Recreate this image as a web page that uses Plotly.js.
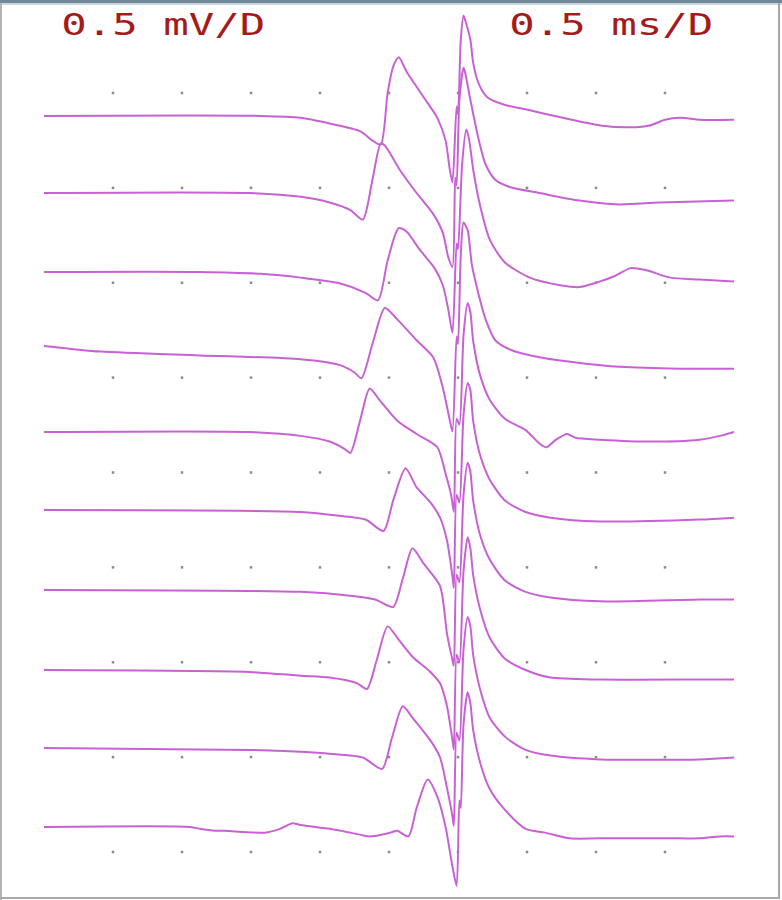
<!DOCTYPE html>
<html>
<head>
<meta charset="utf-8">
<script src="https://cdn.plot.ly/plotly-3.0.1.min.js"></script>
<style>
html,body{margin:0;padding:0;background:#fff;}
#chart{width:782px;height:900px;}
</style>
</head>
<body>
<div id="chart"></div>
<script>
// Time in ms (0.5 ms per division), amplitude in mV (0.5 mV per division), relative to each sweep's baseline
const offsets = [-0.121, -0.527, -0.943, -1.333, -1.787, -2.198, -2.619, -3.041, -3.452, -3.868];

const time1 = [0,1.57,1.86,2.07,2.29,2.38,2.44,2.49,2.53,2.57,2.63,2.75,2.85,2.91,2.94,2.96,2.99,3.00,3.02,3.04,3.05,3.09,3.11,3.15,3.21,3.33,3.52,3.76,4.03,4.25,4.39,4.50,4.61,4.75,5.0];
const amp1  = [0,0,-0.01,-0.04,-0.08,-0.13,-0.15,0.12,0.26,0.31,0.23,0.10,-0.01,-0.13,-0.28,-0.35,0.05,0.01,0.40,0.53,0.51,0.40,0.28,0.17,0.10,0.06,0.03,-0.01,-0.05,-0.06,-0.05,-0.02,-0.01,-0.02,-0.02];

const time2 = [0,1.49,1.86,2.07,2.22,2.31,2.38,2.44,2.47,2.58,2.70,2.82,2.89,2.93,2.96,2.98,2.99,3.01,3.04,3.05,3.09,3.15,3.20,3.27,3.38,3.59,3.88,4.17,4.46,5.0];
const amp2  = [0,0,-0.02,-0.05,-0.09,-0.14,0.07,0.26,0.25,0.12,0.00,-0.11,-0.21,-0.34,-0.39,0.08,0.04,0.49,0.66,0.64,0.49,0.28,0.15,0.07,0.03,0.00,-0.04,-0.06,-0.05,-0.04];

const time3 = [0,1.13,1.57,1.86,2.14,2.33,2.42,2.49,2.57,2.63,2.72,2.83,2.89,2.93,2.96,2.99,3.00,3.03,3.06,3.08,3.11,3.16,3.23,3.34,3.52,3.74,3.88,4.03,4.14,4.25,4.36,4.54,4.75,5.0];
const amp3  = [0,0,-0.01,-0.03,-0.06,-0.11,-0.15,0.06,0.23,0.21,0.12,0.02,-0.07,-0.20,-0.32,0.15,0.12,0.57,0.75,0.70,0.54,0.35,0.17,0.05,-0.03,-0.07,-0.08,-0.05,-0.02,0.02,0.01,-0.03,-0.04,-0.05];

const time4 = [0,0.41,1.13,1.86,2.14,2.25,2.30,2.38,2.47,2.56,2.70,2.82,2.89,2.94,2.96,2.99,3.00,3.02,3.04,3.07,3.10,3.15,3.20,3.27,3.38,3.59,3.88,4.17,4.61,5.0];
const amp4  = [0,-0.03,-0.05,-0.07,-0.10,-0.14,-0.17,0.01,0.20,0.14,0.03,-0.06,-0.22,-0.39,-0.45,0.05,0.01,0.48,0.65,0.61,0.43,0.27,0.14,0.03,-0.02,-0.06,-0.09,-0.11,-0.12,-0.12];

const time5 = [0,1.49,1.86,2.07,2.18,2.22,2.29,2.36,2.43,2.56,2.70,2.85,2.91,2.95,2.97,2.99,3.01,3.04,3.07,3.09,3.11,3.16,3.23,3.34,3.49,3.59,3.64,3.71,3.79,3.85,4.03,4.39,4.75,4.90,5.0];
const amp5  = [0,0,-0.02,-0.05,-0.09,-0.11,0.06,0.23,0.17,0.06,-0.01,-0.08,-0.22,-0.33,-0.42,0.07,0.04,0.51,0.68,0.63,0.48,0.30,0.17,0.07,0.01,-0.06,-0.08,-0.04,-0.01,-0.03,-0.04,-0.05,-0.04,-0.02,0];

const time6 = [0,1.86,2.14,2.33,2.46,2.53,2.62,2.70,2.80,2.87,2.92,2.96,2.97,2.99,3.01,3.04,3.07,3.09,3.11,3.16,3.23,3.34,3.49,3.67,4.03,4.75,5.0];
const amp6  = [0,-0.01,-0.03,-0.05,-0.11,0.05,0.22,0.12,0.04,-0.04,-0.16,-0.35,-0.41,0.08,0.04,0.50,0.67,0.63,0.47,0.29,0.16,0.05,-0.01,-0.04,-0.06,-0.05,-0.04];

const time7 = [0,1.86,2.22,2.40,2.53,2.60,2.67,2.75,2.87,2.92,2.96,2.97,2.99,3.01,3.04,3.07,3.09,3.11,3.16,3.23,3.34,3.49,3.67,4.03,4.75,5.0];
const amp7  = [0,-0.01,-0.03,-0.05,-0.09,0.06,0.22,0.14,0.02,-0.23,-0.37,-0.40,0.08,0.04,0.50,0.67,0.62,0.47,0.29,0.16,0.05,-0.01,-0.04,-0.06,-0.05,-0.05];

const time8 = [0,1.49,1.86,2.07,2.27,2.34,2.41,2.49,2.56,2.67,2.80,2.87,2.92,2.96,2.97,2.99,3.01,3.04,3.07,3.09,3.11,3.16,3.23,3.34,3.49,3.67,4.03,4.75,5.0];
const amp8  = [0,-0.01,-0.03,-0.04,-0.07,-0.10,0.05,0.23,0.17,0.07,-0.01,-0.07,-0.19,-0.37,-0.42,0.08,0.04,0.52,0.70,0.64,0.50,0.32,0.17,0.06,0.00,-0.04,-0.05,-0.05,-0.05];

const time9 = [0,1.49,1.86,2.07,2.31,2.45,2.52,2.60,2.67,2.80,2.87,2.92,2.96,2.97,2.99,3.01,3.04,3.07,3.09,3.11,3.16,3.23,3.34,3.49,3.67,4.03,4.75,5.0];
const amp9  = [0,-0.01,-0.02,-0.03,-0.05,-0.11,0.05,0.22,0.16,0.04,-0.05,-0.21,-0.36,-0.41,0.08,0.04,0.52,0.69,0.64,0.49,0.31,0.16,0.06,-0.01,-0.04,-0.06,-0.06,-0.05];

const time10 = [0,1.06,1.13,1.24,1.31,1.60,1.71,1.80,1.86,2.07,2.22,2.36,2.51,2.56,2.64,2.70,2.78,2.85,2.91,2.96,2.99,3.01,3.02,3.04,3.07,3.09,3.11,3.16,3.23,3.34,3.49,3.63,3.81,4.03,4.61,4.75,4.90,5.0];
const amp10  = [0,0,-0.01,-0.02,-0.02,-0.03,-0.01,0.02,0.01,-0.01,-0.03,-0.05,-0.03,-0.02,-0.05,0.10,0.25,0.16,0.00,-0.21,-0.31,0.14,0.10,0.54,0.71,0.65,0.51,0.34,0.20,0.09,-0.01,-0.03,-0.06,-0.06,-0.06,-0.06,-0.05,-0.05];

const times = [time1,time2,time3,time4,time5,time6,time7,time8,time9,time10];
const amps  = [amp1,amp2,amp3,amp4,amp5,amp6,amp7,amp8,amp9,amp10];

// Grid dot positions (division marks)
const gridTimes = [0.5,1.0,1.5,2.0,2.5,3.0,3.5,4.0,4.5];
const gridLevels = [0,-0.5,-1.0,-1.5,-2.0,-2.5,-3.0,-3.5,-4.0];

const labelLeft = '0.5 mV/D';
const labelRight = '0.5 ms/D';

const data = [];
const gx = [], gy = [];
gridLevels.forEach(l => gridTimes.forEach(t => { gx.push(t); gy.push(l); }));
data.push({x: gx, y: gy, type: 'scatter', mode: 'markers',
  marker: {symbol: 'square', size: 2.5, color: '#8a8a8a'}, hoverinfo: 'skip', showlegend: false});

times.forEach((t, i) => {
  data.push({
    x: t,
    y: amps[i].map(v => v + offsets[i]),
    type: 'scatter', mode: 'lines',
    line: {color: '#c862d4', width: 2, shape: 'spline', smoothing: 0.7},
    showlegend: false, hoverinfo: 'skip'
  });
});

const layout = {
  width: 782, height: 900,
  margin: {l: 0, r: 0, t: 0, b: 0},
  paper_bgcolor: '#ffffff', plot_bgcolor: '#ffffff',
  showlegend: false,
  xaxis: {range: [-0.3188, 5.3478], showgrid: false, zeroline: false, showticklabels: false, showline: false, ticks: '', fixedrange: true},
  yaxis: {range: [-4.2530, 0.4901], showgrid: false, zeroline: false, showticklabels: false, showline: false, ticks: '', fixedrange: true},
  annotations: [
    {text: labelLeft, xref: 'paper', yref: 'paper', x: 163.5/782, y: 1 - 24.5/900, xanchor: 'center', yanchor: 'middle',
     showarrow: false, font: {family: 'DejaVu Sans Mono', size: 30, color: '#a51a1a'}},
    {text: labelRight, xref: 'paper', yref: 'paper', x: 611/782, y: 1 - 24.5/900, xanchor: 'center', yanchor: 'middle',
     showarrow: false, font: {family: 'DejaVu Sans Mono', size: 30, color: '#a51a1a'}}
  ],
  shapes: [
    {type: 'rect', xref: 'paper', yref: 'paper', x0: 0, x1: 1, y0: 1, y1: 1 - 3/900, fillcolor: '#71889a', line: {width: 0}},
    {type: 'rect', xref: 'paper', yref: 'paper', x0: 0, x1: 1, y0: 1 - 3/900, y1: 1 - 5/900, fillcolor: '#c9d7e1', line: {width: 0}},
    {type: 'rect', xref: 'paper', yref: 'paper', x0: 0, x1: 2/782, y0: 0, y1: 1 - 3/900, fillcolor: '#b4b4b4', line: {width: 0}},
    {type: 'rect', xref: 'paper', yref: 'paper', x0: 778/782, x1: 780/782, y0: 1/900, y1: 1 - 3/900, fillcolor: '#a6a6a6', line: {width: 0}},
    {type: 'rect', xref: 'paper', yref: 'paper', x0: 0, x1: 780/782, y0: 1/900, y1: 3/900, fillcolor: '#aaaaaa', line: {width: 0}}
  ]
};

Plotly.newPlot('chart', data, layout, {staticPlot: true, displayModeBar: false}).then(() => {
  document.querySelectorAll('.annotation-text').forEach(el => {
    el.setAttribute('textLength', '204');
    el.setAttribute('lengthAdjust', 'spacingAndGlyphs');
  });
});
</script>
</body>
</html>
